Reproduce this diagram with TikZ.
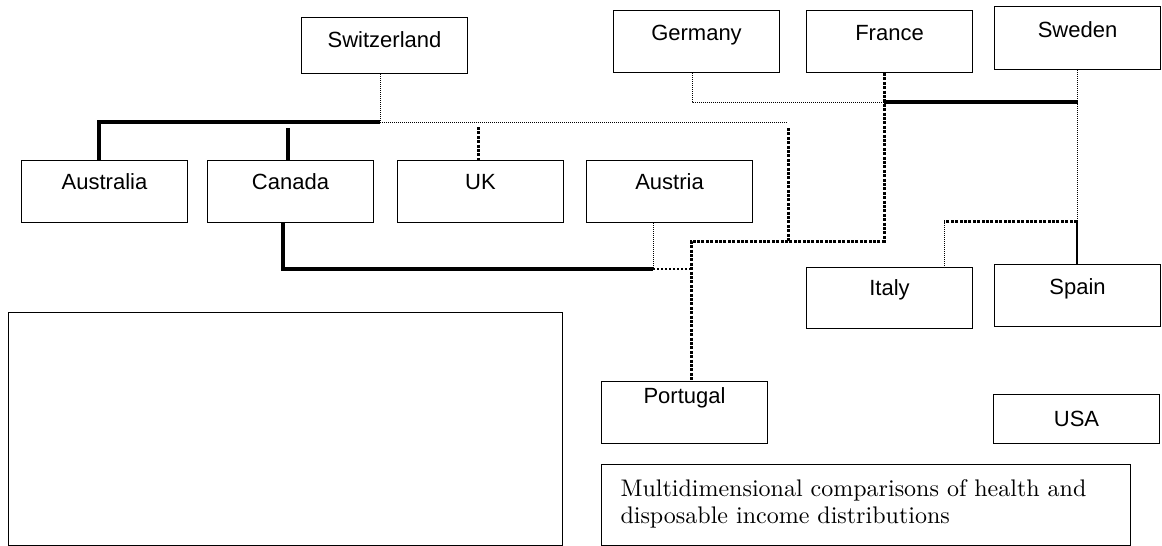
\documentclass[tikz,border=0pt]{standalone}
\usepackage{fontspec}
\usepackage{graphicx}
\usepackage{tikz}
\newfontfamily\labelfont{Liberation Sans}

\begin{document}
\begin{tikzpicture}[
      x=1pt, y=-1pt,
      box/.style={draw, line width=1pt, inner xsep=0pt, inner ysep=0pt,
                  minimum width=166pt, align=center,
                  font=\labelfont\fontsize{22}{26}\selectfont},
      heavy/.style={line width=4.8pt},
      medium/.style={line width=2pt},
      dotthin/.style={line width=1pt, dash pattern=on 1pt off 1pt},
      dotmid/.style={line width=2.2pt, dash pattern=on 2.2pt off 1.8pt},
      dotthick/.style={line width=3pt, dash pattern=on 3pt off 1.4pt}
    ]
    \useasboundingbox (0,0) rectangle (1162,546);

    % top row
    \node[box, anchor=north west, text height=30pt, text depth=26pt] (swiss)   at (301,17) {Switzerland};
    \node[box, anchor=north west, text height=30pt, text depth=32pt] (germany) at (613,10) {Germany};
    \node[box, anchor=north west, text height=30pt, text depth=32pt] (france)  at (806,10) {France};
    \node[box, anchor=north west, text height=31pt, text depth=32pt] (sweden)  at (994,6)  {Sweden};

    % middle row
    \node[box, anchor=north west, text height=29pt, text depth=33pt] (australia) at (21,160)  {Australia};
    \node[box, anchor=north west, text height=29pt, text depth=33pt] (canada)    at (207,160) {Canada};
    \node[box, anchor=north west, text height=29pt, text depth=33pt] (uk)        at (397,160) {UK};
    \node[box, anchor=north west, text height=29pt, text depth=33pt] (austria)   at (586,160) {Austria};
    \node[box, anchor=north west, text height=28pt, text depth=33pt] (italy)     at (806,267) {Italy};
    \node[box, anchor=north west, text height=30pt, text depth=32pt] (spain)     at (994,264) {Spain};

    % bottom row
    \node[box, anchor=north west, text height=22pt, text depth=40pt] (portugal) at (601,381) {Portugal};
    \node[box, anchor=north west, text height=32pt, text depth=17pt] (usa)      at (993,394) {USA};
    \node[draw, line width=1pt, anchor=north west, minimum width=554pt,
          minimum height=233pt] (blank) at (8,312) {};
    \node[draw, line width=1pt, anchor=north west, minimum width=529pt,
          minimum height=81pt, text width=491pt, inner xsep=19pt, align=left] (title) at (601,464)
      {\scalebox{2.4}{\def\arraystretch{0.94}\begin{tabular}{@{}l@{}}Multidimensional comparisons of health and\\disposable income distributions\end{tabular}}};

    % junctions
    \coordinate (jsw)  at (380,122);
    \coordinate (jau)  at (99,122);
    \coordinate (jcan) at (288,128);
    \coordinate (juk)  at (478,127);
    \coordinate (jmid) at (788,122);
    \coordinate (jmidt) at (788,128);
    \coordinate (jpt)  at (691,241);
    \coordinate (jfr)  at (884,241);
    \coordinate (jde)  at (692,102);
    \coordinate (jfs)  at (884,102);
    \coordinate (jse)  at (1078,102);
    \coordinate (jsp)  at (1077,221);
    \coordinate (jit)  at (944,221);
    \coordinate (jca)  at (283,269);
    \coordinate (jat)  at (653,269);

    % Switzerland cluster
    \draw[dotthin] (jsw |- swiss.south) -- (jsw);
    \draw[heavy] (jsw) -- (jau) -- (jau |- australia.north);
    \draw[heavy] (jcan) -- (jcan |- canada.north);
    \draw[dotthick] (juk) -- (juk |- uk.north);
    \draw[dotthin] (jsw) -- (jmid);
    \draw[dotthick] (jmidt) -- (jmidt |- jpt);

    % France and Portugal
    \draw[dotthick] (jfs |- france.south) -- (jfr) -- (jpt) -- (jpt |- portugal.north);

    % Germany, France, Sweden
    \draw[dotthin] (jde |- germany.south) -- (jde) -- (jfs);
    \draw[heavy] (jfs) -- (jse);

    % Sweden, Spain, Italy
    \draw[dotthin] (jsp |- sweden.south) -- (jsp);
    \draw[medium] (jsp) -- (jsp |- spain.north);
    \draw[dotthick] (jsp) -- (jit);
    \draw[dotthin] (jit) -- (jit |- italy.north);

    % Canada and Austria
    \draw[heavy] (jca |- canada.south) -- (jca) -- (jat);
    \draw[dotthin] (jat |- austria.south) -- (jat);
    \draw[dotmid] (jat) -- (jat -| jpt);
  \end{tikzpicture}
\end{document}
